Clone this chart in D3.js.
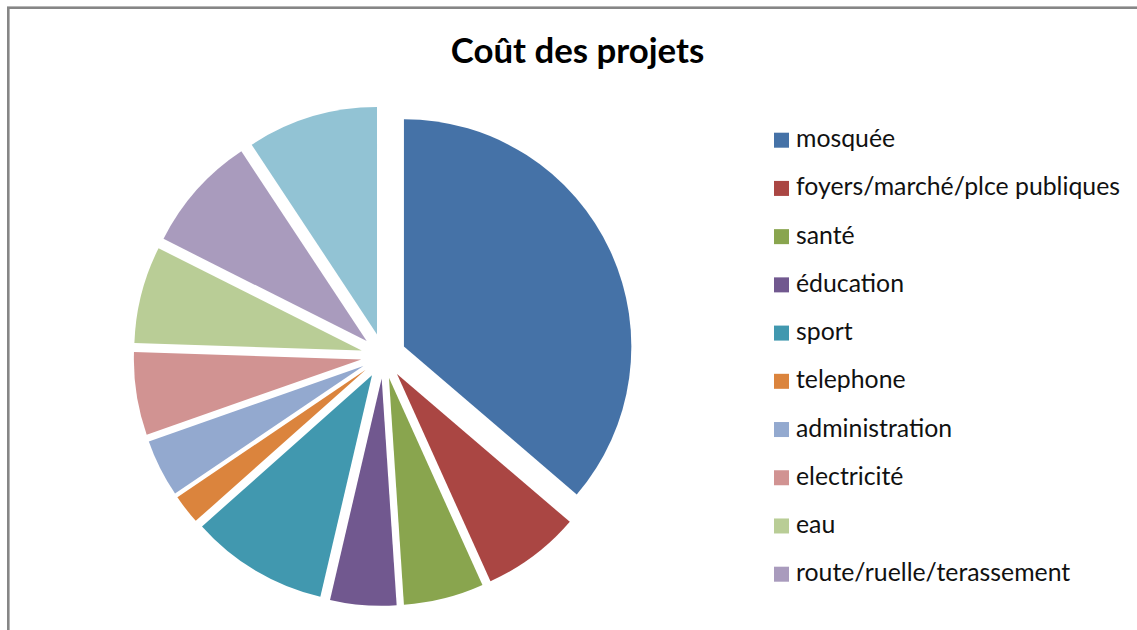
<!DOCTYPE html>
<html>
<head>
<meta charset="utf-8">
<script src="https://cdn.jsdelivr.net/npm/d3@7"></script>
<style>
  html, body { margin: 0; padding: 0; background: #ffffff; }
  svg { display: block; }
</style>
</head>
<body>
<svg id="chart" width="1137" height="630"></svg>
<script>
// ---- data (% of total cost) ----
const title = "Coût des projets";
const categories = [
  "mosquée",
  "foyers/marché/plce publiques",
  "santé",
  "éducation",
  "sport",
  "telephone",
  "administration",
  "electricité",
  "eau",
  "route/ruelle/terassement",
  "autres"
];
const values = [36.3, 7.0, 5.7, 4.7, 9.8, 2.1, 4.1, 5.9, 6.9, 8.3, 9.3];
const colors = [
  "#4572A7", "#AA4643", "#89A54E", "#71588F", "#4198AF",
  "#DB843D", "#93A9CF", "#D19392", "#B9CD96", "#A99BBD", "#92C3D4"
];
// the legend in the reference is cut off after the 10th entry
const legendCount = 10;

// ---- drawing ----
const svg = d3.select("#chart");
const W = 1137, H = 630;

// outer frame (only top and left edges are visible)
svg.append("rect")
  .attr("x", 8.3).attr("y", 7.7)
  .attr("width", W + 20).attr("height", H + 20)
  .attr("fill", "none")
  .attr("stroke", "#868686")
  .attr("stroke-width", 2.6);

// title
svg.append("text")
  .attr("x", 577.5).attr("y", 63)
  .attr("text-anchor", "middle")
  .attr("font-family", "Lato, 'Open Sans', sans-serif")
  .attr("font-weight", "bold")
  .attr("font-size", 34.8)
  .attr("fill", "#000")
  .text(title);

// pie
const cx = 383.5, cy = 356, R = 227.4, explode = 22.5;
const data = categories.map((c, i) => ({ name: c, value: values[i], color: colors[i] }));
const pie = d3.pie().value(d => d.value).sort(null).startAngle(0).endAngle(2 * Math.PI);
const arc = d3.arc().innerRadius(0).outerRadius(R);

const g = svg.append("g").attr("transform", `translate(${cx},${cy})`);
g.selectAll("path")
  .data(pie(data))
  .join("path")
  .attr("d", arc)
  .attr("fill", d => d.data.color)
  .attr("transform", d => {
    const m = (d.startAngle + d.endAngle) / 2;
    return `translate(${explode * Math.sin(m)},${-explode * Math.cos(m)})`;
  });

// legend
const legendY = d3.scalePoint()
  .domain(categories.slice(0, legendCount))
  .range([140.2, 574.2]);

const lg = svg.append("g");
const items = lg.selectAll("g")
  .data(data.slice(0, legendCount))
  .join("g")
  .attr("transform", d => `translate(774,${legendY(d.name)})`);
items.append("rect")
  .attr("x", 0).attr("y", -7.5)
  .attr("width", 15).attr("height", 15)
  .attr("fill", d => d.color);
items.append("text")
  .attr("x", 22).attr("y", 7)
  .attr("font-family", "Lato, 'Open Sans', sans-serif")
  .attr("font-size", 24.8)
  .attr("fill", "#111")
  .text(d => d.name);
</script>
</body>
</html>
